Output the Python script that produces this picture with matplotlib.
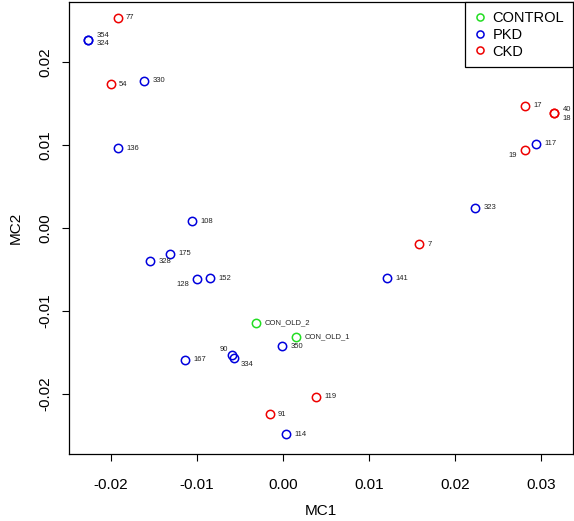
import matplotlib.pyplot as plt

# Datos (MDS)
names = ['77', '354', '324', '54', '330', '136', '108', '175', '328', '128',
         '152', 'CON_OLD_2', 'CON_OLD_1', '350', '167', '90', '334', '119',
         '91', '114', '17', '40', '18', '117', '19', '323', '7', '141']
mc1 = [-0.01920, -0.02261, -0.02261, -0.02001, -0.01611, -0.01920, -0.01057,
       -0.01316, -0.01541, -0.01002, -0.00848, -0.00310, 0.00155, -0.00012,
       -0.01134, -0.00596, -0.00566, 0.00387, -0.00155, 0.00035, 0.02811,
       0.03148, 0.03148, 0.02942, 0.02811, 0.02230, 0.01580, 0.01211]
mc2 = [0.02534, 0.02269, 0.02269, 0.01731, 0.01771, 0.00960, 0.00081,
       -0.00310, -0.00398, -0.00618, -0.00606, -0.01141, -0.01310, -0.01422,
       -0.01587, -0.01534, -0.01566, -0.02036, -0.02245, -0.02486, 0.01473,
       0.01382, 0.01382, 0.01012, 0.00940, 0.00245, -0.00196, -0.00606]
group = ['CKD', 'PKD', 'PKD', 'CKD', 'PKD', 'PKD', 'PKD', 'PKD', 'PKD', 'PKD',
         'PKD', 'CONTROL', 'CONTROL', 'PKD', 'PKD', 'PKD', 'PKD', 'CKD',
         'CKD', 'PKD', 'CKD', 'CKD', 'CKD', 'PKD', 'CKD', 'PKD', 'CKD', 'PKD']

groups = ['CONTROL', 'PKD', 'CKD']
colors = {'CONTROL': '#22dd22', 'PKD': '#0000dd', 'CKD': '#ee0000'}

# desplazamiento de etiquetas (puntos) para las que no van a la derecha
offsets = {'354': (6, 3.2, 'left'), '324': (6, -2.8, 'left'),
           '40': (6, 2.5, 'left'), '18': (6, -3.5, 'left'),
           '128': (-5.5, -4, 'right'), '19': (-5.5, -4, 'right'),
           '90': (-3, 4, 'right'), '334': (4.5, -5, 'left')}

plt.rcParams['font.family'] = ['Liberation Sans', 'DejaVu Sans']
fig = plt.figure(figsize=(5.74, 5.21), dpi=100)
ax = fig.add_axes([0.1202, 0.1286, 0.8781, 0.8676])

for g in groups:
    xs = [x for x, gg in zip(mc1, group) if gg == g]
    ys = [y for y, gg in zip(mc2, group) if gg == g]
    ax.plot(xs, ys, 'o', mfc='none', mec=colors[g], mew=1.1, ms=6, label=g)

for n, x, y in zip(names, mc1, mc2):
    dx, dy, ha = offsets.get(n, (6, 0, 'left'))
    ax.annotate(n, (x, y), xytext=(dx, dy), textcoords='offset points',
                ha=ha, va='center', fontsize=5.5, color='#222222')

ax.set_xlim(-0.02486, 0.03368)
ax.set_ylim(-0.02723, 0.02723)
ax.set_xticks([-0.02, -0.01, 0.00, 0.01, 0.02, 0.03])
ax.set_xticklabels(['-0.02', '-0.01', '0.00', '0.01', '0.02', '0.03'], fontsize=11)
ax.set_yticks([-0.02, -0.01, 0.00, 0.01, 0.02])
ax.set_yticklabels(['-0.02', '-0.01', '0.00', '0.01', '0.02'], fontsize=11,
                   rotation=90, va='center')
ax.tick_params(axis='x', length=5, width=0.8, pad=12)
ax.tick_params(axis='y', length=5, width=0.8, pad=7)
ax.set_xlabel('MC1', fontsize=11, labelpad=9)
ax.set_ylabel('MC2', fontsize=11, labelpad=11)
for s in ax.spines.values():
    s.set_linewidth(0.9)

leg = ax.legend(loc='upper right', fontsize=10.5, frameon=True, fancybox=False,
                borderaxespad=0, handletextpad=0.5, handlelength=0.8,
                borderpad=0.6, labelspacing=0.2, markerscale=0.85)
leg.get_frame().set_edgecolor('black')
leg.get_frame().set_linewidth(0.9)
leg.get_frame().set_alpha(1)

fig.savefig('out.png', dpi=100)
